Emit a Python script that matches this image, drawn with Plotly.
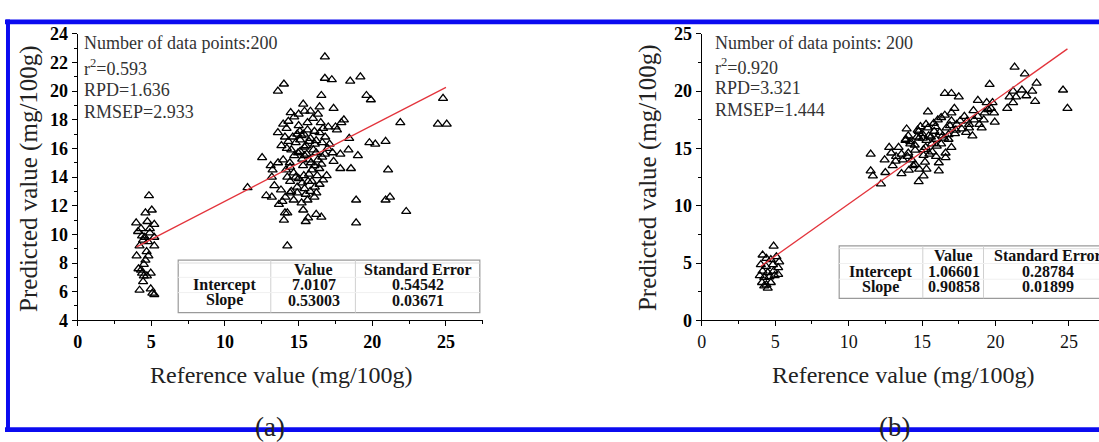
import plotly.graph_objects as go

# ---------------- data ----------------
# Panel (a): reference vs predicted values (mg/100g)
ref_a = [
    4.84, 4.60, 5.03, 3.97, 4.73, 5.20, 4.30, 4.90, 4.37, 4.44, 5.20, 4.20, 5.20, 4.68, 4.00,
    4.60, 4.13, 4.37, 4.96, 4.49, 4.44, 4.20, 4.96, 5.20, 5.07, 4.77, 4.49, 4.30, 4.70, 4.10,
    4.90, 4.55, 4.80,
    11.53, 12.52, 12.80, 13.18, 13.10, 13.23, 13.18, 13.35, 13.59, 14.00, 13.59, 13.95, 14.18,
    13.83, 14.07, 14.30, 13.95, 14.14, 14.23, 14.42, 13.66, 13.90, 14.07, 14.00, 14.23, 14.23,
    14.42, 14.66, 14.46, 14.70, 15.00, 14.50, 14.80, 14.96, 14.66, 14.42, 14.90, 15.31, 15.40,
    15.08, 15.35, 15.60, 15.10, 15.40, 15.70, 15.24, 15.55, 15.83, 15.35, 15.64, 15.24, 15.48,
    15.78, 15.60, 15.31, 15.48, 15.64, 15.80, 15.97, 16.07, 16.19, 16.19, 16.07, 16.26, 16.10,
    16.42, 16.07, 16.19, 16.54, 16.42, 16.54, 16.31, 16.42, 16.66, 16.78, 16.78, 17.25, 16.60,
    16.97, 16.78, 16.66, 16.54, 17.01, 17.37, 17.50, 17.37, 17.83, 17.83, 18.07, 18.43, 18.38,
    18.55, 19.02, 18.90, 18.90, 18.50, 19.19, 19.60, 19.90, 19.80, 20.20, 20.90, 21.07, 20.90,
    21.20, 21.90, 22.30, 24.80, 24.45, 25.05,
    14.60, 14.90, 15.20, 15.50, 15.80, 16.00, 15.10, 14.70, 15.30, 15.90, 16.30, 14.40, 15.00,
    15.70, 16.40, 14.90, 15.40, 16.20, 14.50, 16.60, 15.60, 15.00, 14.30, 16.80, 17.10, 17.60,
    17.90, 13.60, 13.80, 14.10, 16.90, 15.20, 15.90, 16.50, 15.40, 14.80, 16.10, 15.70, 14.20,
    17.30,
]
pred_a = [
    12.70, 11.50, 11.70, 10.80, 10.90, 10.70, 10.40, 10.40, 9.90, 9.60, 9.80, 9.20, 9.20, 8.80,
    8.50, 8.20, 7.60, 7.30, 7.30, 7.10, 6.70, 6.10, 6.20, 5.80, 5.90, 9.50, 7.90, 7.50, 7.10,
    10.20, 10.10, 9.80, 8.50,
    13.26, 15.36, 12.70, 12.60, 14.80, 14.50, 14.00, 13.40, 20.00, 20.50, 17.10, 17.70, 17.40,
    16.20, 16.80, 16.50, 15.20, 14.50, 14.00, 13.70, 12.10, 12.30, 11.50, 11.00, 11.50, 9.20,
    14.70, 14.30, 18.50, 18.20, 18.40, 15.90, 16.40, 15.70, 12.40, 12.90, 13.30, 19.10, 18.60,
    17.20, 17.00, 17.30, 16.60, 16.10, 16.50, 15.25, 15.60, 15.00, 14.10, 13.70, 13.60, 12.80,
    13.00, 12.40, 11.70, 10.90, 11.15, 18.60, 18.10, 17.20, 16.55, 15.70, 14.80, 14.10, 13.30,
    13.50, 12.60, 11.40, 11.20, 18.90, 19.70, 18.40, 17.10, 17.40, 22.40, 20.90, 20.80, 16.40,
    16.00, 15.60, 13.80, 14.90, 17.50, 18.80, 17.50, 15.10, 14.60, 15.60, 18.00, 16.70, 15.90,
    14.60, 15.50, 12.40, 10.80, 20.70, 21.00, 19.70, 19.40, 16.40, 16.30, 16.50, 14.50, 12.40,
    12.60, 17.80, 11.60, 19.50, 17.70, 17.70,
    16.80, 17.00, 16.90, 16.20, 16.70, 15.90, 15.80, 15.50, 14.80, 14.50, 15.20, 15.00, 13.90,
    14.20, 14.60, 12.90, 13.20, 12.90, 13.00, 15.40, 17.80, 17.60, 17.90, 16.80, 16.30, 17.30,
    17.80, 15.00, 13.10, 12.60, 14.10, 12.20, 13.70, 17.80, 15.50, 14.00, 16.30, 15.20, 16.00,
    15.70,
]

# Panel (b): reference vs predicted values (mg/100g)
ref_b = [
    4.89, 4.14, 4.40, 4.70, 5.08, 5.27, 4.02, 4.37, 4.84, 5.20, 4.14, 4.49, 4.89, 5.20, 3.95,
    4.25, 4.60, 4.96, 4.10, 4.40, 4.70, 4.49, 4.25,
    11.50, 11.50, 11.65, 12.20, 12.45, 12.50, 12.76, 13.00, 13.23, 13.60, 13.40, 13.70, 13.95,
    14.06, 13.87, 14.20, 14.06, 14.30, 14.53, 14.65, 14.77, 14.89, 14.53, 14.80, 14.77, 15.10,
    15.30, 15.05, 15.25, 15.10, 15.27, 15.40, 15.45, 15.66, 15.70, 15.83, 15.95, 16.07, 15.95,
    16.14, 16.14, 16.30, 16.40, 16.55, 16.55, 17.00, 17.50, 16.67, 16.80, 16.60, 17.00, 17.20,
    17.00, 17.24, 17.36, 17.70, 17.88, 18.07, 18.43, 18.20, 18.50, 18.80, 18.55, 18.90, 19.06,
    19.26, 19.60, 19.40, 19.80, 19.90, 19.95, 19.70, 20.80, 20.96, 21.30, 22.00, 21.20, 21.80,
    22.10, 22.50, 22.80, 22.70, 24.60, 24.90, 21.40, 21.20,
    14.20, 14.50, 14.80, 15.00, 15.30, 15.60, 15.90, 16.20, 16.50, 15.10, 14.00, 13.60, 13.20,
    14.40, 15.50, 16.00, 16.80, 17.30, 17.60, 18.20, 18.80, 19.20, 19.50, 15.80, 16.30, 17.00,
    14.70, 13.90, 12.90, 15.20, 16.60, 14.10, 18.00, 16.90, 15.40,
]
pred_b = [
    6.47, 5.70, 5.40, 5.30, 5.55, 5.10, 4.86, 4.70, 4.86, 4.60, 4.30, 4.17, 4.30, 4.00, 3.90,
    3.75, 3.80, 3.90, 3.30, 3.10, 3.30, 2.80, 3.00,
    14.50, 13.05, 12.60, 11.90, 14.00, 12.90, 15.10, 13.50, 14.30, 12.80, 15.10, 14.00, 16.70,
    16.10, 15.70, 15.40, 14.60, 14.00, 14.86, 16.00, 16.50, 16.90, 13.60, 13.20, 12.10, 12.60,
    13.20, 15.90, 15.10, 14.40, 17.10, 18.20, 16.10, 15.40, 14.70, 16.50, 15.80, 17.50, 14.30,
    13.75, 13.05, 15.40, 16.10, 17.90, 19.80, 19.80, 19.50, 16.80, 15.80, 14.60, 17.40, 18.50,
    15.10, 16.30, 17.10, 16.70, 17.80, 17.40, 16.10, 16.80, 18.30, 19.20, 17.50, 17.10, 16.80,
    18.10, 20.60, 19.00, 19.00, 18.10, 17.30, 18.50, 18.50, 19.50, 22.10, 21.50, 20.00, 20.10,
    19.60, 20.00, 20.70, 19.10, 20.10, 18.50, 19.50, 19.00,
    15.60, 15.30, 15.90, 16.30, 15.70, 16.00, 16.90, 16.40, 15.90, 14.90, 14.30, 14.50, 13.90,
    13.50, 14.50, 15.20, 16.20, 16.60, 17.40, 17.10, 17.80, 17.50, 18.40, 17.20, 17.70, 18.10,
    16.60, 15.80, 14.60, 13.80, 14.20, 13.10, 16.40, 17.00, 16.80,
]

# Linear fit parameters reported for each panel
fit_a = {"intercept": 7.0107, "slope": 0.53003, "se_intercept": 0.54542, "se_slope": 0.03671}
fit_b = {"intercept": 1.06601, "slope": 0.90858, "se_intercept": 0.28784, "se_slope": 0.01899}
fit_x_a = [4.0, 25.0]
fit_x_b = [4.0, 24.9]

stats_a = ["Number of data points:200", "r<sup>2</sup>=0.593", "RPD=1.636", "RMSEP=2.933"]
stats_b = ["Number of data points: 200", "r<sup>2</sup>=0.920", "RPD=3.321", "RMSEP=1.444"]

# ---------------- layout helpers ----------------
W, H = 1099, 442
SERIF = "Liberation Serif"


def px(x):
    return x / W


def py(y):
    return 1 - y / H


fig = go.Figure()

marker = dict(symbol="triangle-up-open", size=8, color="black", line=dict(width=1.3, color="black"))
for xs, ys, xa, ya in [(ref_a, pred_a, "x", "y"), (ref_b, pred_b, "x2", "y2")]:
    fig.add_trace(go.Scatter(x=xs, y=ys, mode="markers", marker=marker,
                             xaxis=xa, yaxis=ya, showlegend=False, hoverinfo="x+y"))

for fx, fit, xa, ya in [(fit_x_a, fit_a, "x", "y"), (fit_x_b, fit_b, "x2", "y2")]:
    fy = [fit["intercept"] + fit["slope"] * v for v in fx]
    fig.add_trace(go.Scatter(x=fx, y=fy, mode="lines", line=dict(color="#e3343c", width=1.3),
                             xaxis=xa, yaxis=ya, showlegend=False, hoverinfo="skip"))

common = dict(showgrid=False, zeroline=False, showline=True, linecolor="black", linewidth=1.3,
              ticks="outside", ticklen=5, tickwidth=1.2, tickcolor="black", mirror=False)
bold_tick = dict(family=SERIF, size=18, color="black", weight="bold")
plain_tick = dict(family=SERIF, size=18, color="#111")

ydom = [py(325), py(25)]
fig.update_layout(
    width=W, height=H,
    margin=dict(l=0, r=0, t=0, b=0, pad=0),
    paper_bgcolor="white", plot_bgcolor="white",
    xaxis=dict(domain=[px(73), px(480)], range=[0, 27.5], tick0=0, dtick=5,
               minor=dict(dtick=2.5, ticklen=3, ticks="outside", tickcolor="black"),
               tickfont=bold_tick, anchor="y", **common),
    yaxis=dict(domain=ydom, range=[4, 24], tick0=0, dtick=2,
               minor=dict(dtick=1, ticklen=3, ticks="outside", tickcolor="black"),
               tickfont=bold_tick, anchor="x", **common),
    xaxis2=dict(domain=[px(700), 1.0], range=[0, 27.05], tick0=0, dtick=5,
                minor=dict(dtick=2.5, ticklen=3, ticks="outside", tickcolor="black"),
                tickfont=plain_tick, anchor="y2", **common),
    yaxis2=dict(domain=ydom, range=[0, 25], tick0=0, dtick=5,
                minor=dict(dtick=2.5, ticklen=3, ticks="outside", tickcolor="black"),
                tickfont=bold_tick, anchor="x2", **common),
)

ann = []


def text(x, y, s, size=17, color="#222", xanchor="center", bold=False, angle=0):
    f = dict(family=SERIF, size=size, color=color)
    if bold:
        f["weight"] = "bold"
    ann.append(dict(x=px(x), y=py(y), xref="paper", yref="paper", text=s, showarrow=False,
                    xanchor=xanchor, yanchor="middle", font=f, textangle=angle,
                    borderpad=0))


# axis titles
for cx in (24, 646):
    text(cx, 176, "Predicted value (mg/100g)", size=25, color="#222", angle=-90)
text(278, 382, "Reference value (mg/100g)", size=24, color="#222")
text(903, 382, "Reference value (mg/100g)", size=24, color="#222")
text(266, 437, "(a)", size=27, color="#222")
text(894, 437, "(b)", size=27, color="#222")

# statistics blocks
for x0, lines, ys in [(78, stats_a, [35, 60, 84, 107]), (712, stats_b, [35, 59, 82, 105])]:
    for s, yy in zip(lines, ys):
        text(x0, yy, s, size=18, color="#333", xanchor="left")

# fit tables
shapes = []


def table(x0, x1, y0, y1, cols, rows_y, cells, fit):
    shapes.append(dict(type="rect", xref="paper", yref="paper", x0=px(x0), x1=px(x1),
                       y0=py(y1), y1=py(y0), line=dict(color="#9a9a9a", width=1.2),
                       fillcolor="white", layer="above"))
    shapes.append(dict(type="line", xref="paper", yref="paper", x0=px(x0), x1=px(x1),
                       y0=py(y0 + 3), y1=py(y0 + 3), line=dict(color="#dddddd", width=1),
                       layer="above"))
    for c in cols:
        shapes.append(dict(type="line", xref="paper", yref="paper", x0=px(c), x1=px(c),
                           y0=py(y1), y1=py(y0), line=dict(color="#d0d0d0", width=1),
                           layer="above"))
    for b in ((rows_y[0] + rows_y[1]) / 2, (rows_y[1] + rows_y[2]) / 2):
        shapes.append(dict(type="line", xref="paper", yref="paper", x0=px(x0), x1=px(x1),
                           y0=py(b), y1=py(b), line=dict(color="#f0f0f0", width=1),
                           layer="above"))
    cx = cells
    text(cx[1], rows_y[0], "Value", size=16, color="#111", bold=True)
    text(cx[2], rows_y[0], "Standard Error", size=16, color="#111", bold=True)
    text(cx[0], rows_y[1], "Intercept", size=16, color="#111", bold=True)
    text(cx[1], rows_y[1], f"{fit['intercept']:g}", size=16, color="#111", bold=True)
    text(cx[2], rows_y[1], f"{fit['se_intercept']:.5f}", size=16, color="#111", bold=True)
    text(cx[0], rows_y[2], "Slope", size=16, color="#111", bold=True)
    text(cx[1], rows_y[2], f"{fit['slope']:.5f}", size=16, color="#111", bold=True)
    text(cx[2], rows_y[2], f"{fit['se_slope']:.5f}", size=16, color="#111", bold=True)


table(174, 477, 262, 317, [267, 352], [272, 288, 304], [221, 310, 415], fit_a)
table(838, 1110, 247, 302, [922, 983], [257, 274, 290], [880, 953, 1048], fit_b)

# page frame
frame = "#0b0bf0"
for x0, x1, y0, y1 in [(0, W, 10, 15), (1, 5, 10, H), (0, W, 437, H)]:
    shapes.append(dict(type="rect", xref="paper", yref="paper", x0=px(x0), x1=px(x1),
                       y0=py(y1), y1=py(y0), line=dict(width=0), fillcolor=frame, layer="above"))

fig.update_layout(annotations=ann, shapes=shapes)
fig.write_html("out.html")
